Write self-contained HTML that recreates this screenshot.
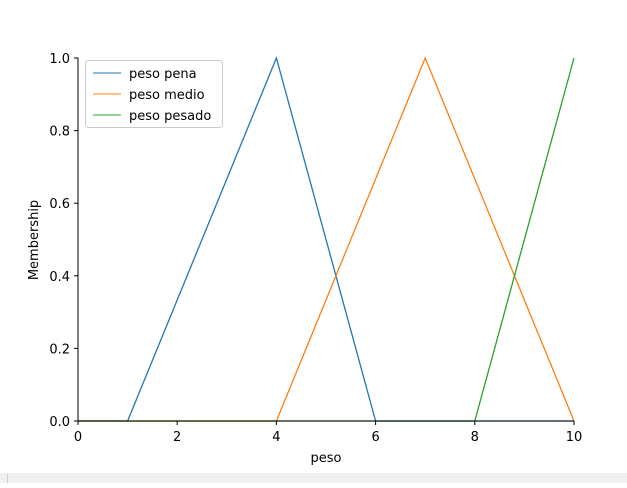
<!DOCTYPE html>
<html><head><meta charset="utf-8"><style>
body{margin:0;background:#fff;width:627px;height:483px;overflow:hidden;font-family:"Liberation Sans","DejaVu Sans",sans-serif}
svg text{font-family:"DejaVu Sans","Liberation Sans",sans-serif;font-size:13px;fill:#000}
</style></head><body>
<svg id="chart" width="627" height="483">
<rect x="0" y="473" width="627" height="10" fill="#f0f0f0"/>
<line x1="7.5" y1="474" x2="7.5" y2="483" stroke="#d0d0d0"/>
<g id="series"></g>
<g id="axes"></g>
<g>
<rect x="85.5" y="60.5" width="137" height="67" rx="3" fill="#fff" fill-opacity="0.8" stroke="#ccc"/>
<line x1="93" y1="73" x2="121" y2="73" stroke="#1f77b4"/>
<text x="129" y="78">peso pena</text>
<line x1="93" y1="94" x2="121" y2="94" stroke="#ff7f0e"/>
<text x="129" y="99">peso medio</text>
<line x1="93" y1="115" x2="121" y2="115" stroke="#2ca02c"/>
<text x="129" y="120">peso pesado</text>
</g>
<text x="326" y="462" text-anchor="middle">peso</text>
<text transform="translate(38,240) rotate(-90)" text-anchor="middle">Membership</text>
</svg>
<script>
const xs = [0, 1, 4, 6, 7, 8, 10];
const pena = [0, 0, 1, 0, 0, 0, 0];
const medio = [0, 0, 0, 0.6667, 1, 0.6667, 0];
const pesado = [0, 0, 0, 0, 0, 0, 1];
const xTicks = [0, 2, 4, 6, 8, 10];
const yTicks = [0.0, 0.2, 0.4, 0.6, 0.8, 1.0];
const X = v => 78 + v * 49.6;
const Y = v => 421 - v * 363;
const NS = "http://www.w3.org/2000/svg";
const sg = document.getElementById('series'), ag = document.getElementById('axes');
[[pena,'#1f77b4','line-peso-pena'],[medio,'#ff7f0e','line-peso-medio'],[pesado,'#2ca02c','line-peso-pesado']].forEach(([d,c,n])=>{
  const p = document.createElementNS(NS,'polyline');
  p.setAttribute('points', xs.map((x,i)=>X(x)+','+Y(d[i])).join(' '));
  p.setAttribute('fill','none'); p.setAttribute('stroke',c); p.setAttribute('stroke-width','1.3');
  
  
  sg.appendChild(p);
});
function ln(x1,y1,x2,y2,n){const l=document.createElementNS(NS,'line');l.setAttribute('x1',x1);l.setAttribute('y1',y1);l.setAttribute('x2',x2);l.setAttribute('y2',y2);l.setAttribute('stroke','#000');


ag.appendChild(l);}
function tx(x,y,s,a,n){const t=document.createElementNS(NS,'text');t.setAttribute('x',x);t.setAttribute('y',y);t.setAttribute('text-anchor',a);t.textContent=s;


ag.appendChild(t);}
ln(78,Y(0),574,Y(0),'x-axis-line');
ln(78,Y(1)-0.5,78,Y(0)+0.5,'y-axis-line');
xTicks.forEach(v=>{ln(X(v),421,X(v),425,'x-tick');tx(X(v),441,String(v),'middle','x-tick-label');});
yTicks.forEach(v=>{ln(74,Y(v),78,Y(v),'y-tick');tx(70,Y(v)+5,v.toFixed(1),'end','y-tick-label');});
</script>
</body></html>
